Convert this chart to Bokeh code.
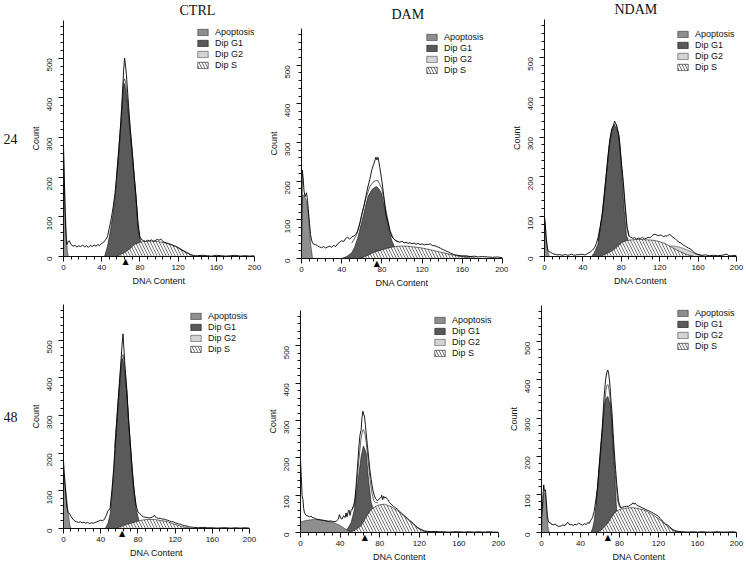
import math
from bokeh.plotting import figure
from bokeh.layouts import column, row
from bokeh.models import (Range1d, FixedTicker, Legend, LegendItem, LinearAxis, Title, Plot)
from bokeh.core.properties import value
from bokeh.embed import file_html
from bokeh.resources import INLINE

# ---------------- labels / ticks ----------------
col_titles = ["CTRL", "DAM", "NDAM"]
row_titles = ["24", "48"]
legend_labels = ["Apoptosis", "Dip G1", "Dip G2", "Dip S"]
x_major = [0, 40, 80, 120, 160, 200]
x_minor = [8, 16, 24, 32, 48, 56, 64, 72, 88, 96, 104, 112, 128, 136, 144, 152,
           168, 176, 184, 192]
y_major = [0, 100, 200, 300, 400, 500]
y_minor = [20, 40, 60, 80, 120, 140, 160, 180, 220, 240, 260, 280, 320, 340, 360,
           380, 420, 440, 460, 480, 520, 540, 560, 580]
g1_marker = [65, 75, None, 63, 65, 68]

# ---------------- CTRL 24 ----------------
ctrl24_hist_x = [0, 0.8, 1.6, 2.5, 3.5, 5, 6, 8, 10, 12, 14, 16, 18, 20, 22, 24, 26, 28, 30, 32,
                 34, 36, 38, 40, 42, 44, 46, 48, 50, 52, 54, 56, 58, 60, 62, 63, 64, 65, 66, 67,
                 68, 70, 72, 74, 76, 78, 80, 82, 84, 86, 88, 90, 92, 94, 96, 98, 100, 102, 104,
                 106, 108, 110, 112, 114, 116, 118, 120, 122, 124, 126, 128, 130, 132, 134, 136,
                 138, 140, 145, 150, 155, 160, 165, 170, 175, 180, 185, 190, 195, 200]
ctrl24_hist_y = [280, 200, 120, 60, 30, 38, 40, 30, 26, 28, 24, 27, 25, 29, 24, 27, 23, 28, 25, 29,
                 26, 30, 28, 33, 36, 42, 50, 72, 95, 125, 160, 215, 275, 340, 425, 470, 500, 480,
                 455, 420, 385, 320, 265, 205, 150, 85, 50, 42, 40, 38, 41, 39, 42, 38, 40, 43,
                 41, 44, 38, 36, 34, 33, 31, 29, 27, 25, 22, 19, 16, 13, 10, 8, 6, 4, 3,
                 2, 2, 3, 2, 1, 3, 2, 1, 2, 3, 1, 2, 1, 2]
ctrl24_apop_x = [0, 1, 2, 3, 4, 5]
ctrl24_apop_y = [260, 190, 110, 50, 15, 0]
ctrl24_g1_x = [43, 46, 49.2, 52, 54, 56, 58.5, 61, 63, 64, 66, 68, 71.2, 73.5, 75.7, 78.4, 80.8]
ctrl24_g1_y = [0, 25, 66, 110, 150, 205, 276, 360, 428, 436, 405, 358, 276, 210, 150, 66, 38]
ctrl24_g2_x = [120, 124, 128, 132, 136]
ctrl24_g2_y = [0, 2, 3, 2, 0]
ctrl24_s_x = [56, 60, 65, 70, 74, 80, 85, 91, 98, 105, 112, 119, 125, 129, 133, 136]
ctrl24_s_y = [0, 5, 12, 20, 30, 36, 38, 39, 38, 35, 30, 24, 16, 11, 5, 0]
ctrl24_fit_x = [56, 58, 60, 62, 63, 64, 65, 66, 68, 70, 72, 74, 76, 78, 80]
ctrl24_fit_y = [210, 268, 335, 405, 440, 448, 440, 420, 365, 315, 262, 205, 148, 75, 45]

# ---------------- DAM 24 ----------------
dam24_hist_x = [0, 0.8, 1.6, 2.5, 3.5, 5, 6, 7, 8, 9, 10, 11, 12, 14, 16, 18, 20, 22, 24, 26, 28,
                30, 32, 34, 36, 38, 40, 42, 44, 46, 48, 50, 52, 54, 56, 58, 60, 62, 64, 66, 68,
                70, 72, 74, 75, 76, 77, 78, 80, 82, 84, 86, 88, 90, 92, 94, 96, 98, 100, 102,
                104, 106, 108, 110, 112, 114, 116, 118, 120, 122, 124, 126, 128, 130, 132, 134,
                136, 138, 140, 142, 144, 146, 148, 150, 152, 154, 156, 158, 160, 164, 168, 172,
                176, 180, 185, 190, 195, 200]
dam24_hist_y = [40, 229, 210, 175, 160, 170, 150, 120, 90, 62, 48, 40, 37, 36, 33, 30, 28, 31, 27,
                30, 32, 29, 34, 31, 38, 42, 46, 44, 52, 55, 50, 56, 58, 62, 72, 90, 115, 135, 160,
                185, 205, 230, 245, 262, 255, 262, 250, 235, 200, 160, 115, 95, 72, 56, 50, 46,
                44, 42, 45, 40, 42, 39, 41, 38, 40, 37, 39, 36, 38, 35, 37, 36, 38, 34, 33, 32,
                29, 27, 24, 22, 19, 17, 14, 12, 10, 9, 8, 7, 6, 6, 5, 6, 4, 5, 4, 3, 4, 2]
dam24_apop_x = [0, 0.5, 1.5, 3, 5, 7, 9, 11]
dam24_apop_y = [0, 150, 165, 160, 150, 110, 40, 0]
dam24_g1_x = [40, 45, 50, 53, 56.4, 59, 61.3, 64, 66.3, 70, 73, 74.6, 77, 79.6, 82, 84.6, 87, 89.6,
              92.9]
dam24_g1_y = [0, 5, 15, 30, 57, 85, 108, 138, 161, 178, 184, 186, 180, 169, 140, 108, 75, 48, 27]
dam24_g2_x = [145, 150, 155, 160, 165, 170, 175]
dam24_g2_y = [0, 3, 7, 8, 7, 4, 0]
dam24_s_x = [58, 65, 71, 78, 84.6, 91, 98, 105, 111, 118, 124, 131, 137.6, 144, 151, 156, 161, 166,
             171]
dam24_s_y = [0, 7, 15, 21, 26, 30, 32, 32, 30, 28, 25, 21, 17, 13, 9, 6, 4, 2, 0]
dam24_fit_x = [50, 55, 60, 64, 68, 72, 76, 80, 84, 88, 92, 96]
dam24_fit_y = [40, 62, 112, 155, 186, 200, 202, 180, 125, 72, 50, 42]

# ---------------- NDAM 24 ----------------
ndam24_hist_x = [0, 0.8, 1.6, 2.5, 3.5, 5, 6, 8, 10, 12, 14, 16, 18, 20, 22, 24, 26, 28, 30, 32,
                 34, 36, 38, 40, 42, 44, 46, 48, 50, 52, 54, 56, 58, 60, 62, 64, 66, 68, 70, 72,
                 73, 74, 75, 76, 77, 78, 80, 82, 84, 86, 88, 90, 92, 94, 96, 98, 100, 102, 104,
                 106, 108, 110, 112, 114, 116, 118, 120, 122, 124, 126, 128, 130, 132, 134, 136,
                 138, 140, 142, 144, 146, 148, 150, 152, 154, 156, 158, 160, 164, 168, 172, 176,
                 180, 185, 190, 192, 195, 200]
ndam24_hist_y = [100, 85, 50, 30, 15, 12, 11, 8, 6, 5, 4, 5, 3, 4, 5, 3, 4, 6, 4, 3, 5, 4, 6, 5,
                 4, 6, 9, 12, 16, 22, 32, 50, 75, 105, 150, 200, 250, 292, 320, 330, 340, 334,
                 332, 318, 310, 295, 240, 190, 130, 75, 52, 48, 46, 47, 44, 46, 45, 48, 44, 46,
                 48, 47, 52, 56, 55, 52, 54, 53, 50, 52, 51, 56, 52, 48, 45, 40, 36, 34, 30, 27,
                 24, 21, 19, 14, 10, 7, 5, 3, 4, 2, 3, 2, 3, 6, 2, 2, 3]
ndam24_apop_x = [0, 1, 2, 3, 4, 5]
ndam24_apop_y = [90, 70, 45, 20, 8, 0]
ndam24_g1_x = [49, 52, 55.8, 58, 60.9, 64.3, 67.7, 70.4, 72.8, 75, 77.2, 79, 80.6, 83, 85.4, 87.4]
ndam24_g1_y = [0, 10, 32, 70, 116, 199, 283, 317, 330, 322, 305, 260, 199, 116, 53, 40]
ndam24_g2_x = [126, 132, 138, 144, 150, 156, 162, 166]
ndam24_g2_y = [0, 27, 25, 21, 15, 8, 3, 0]
ndam24_s_x = [57.5, 64, 71, 76, 81, 86, 91.5, 98, 105, 112, 119, 126, 132.5, 138, 142.5, 148,
              152.7, 156]
ndam24_s_y = [0, 6, 15, 25, 36, 40, 42, 43, 42, 41, 38, 32, 23, 16, 10.6, 5, 2.5, 0]
ndam24_fit_x = [56, 60, 64, 68, 70, 72, 74, 76, 78, 80, 82, 84, 86, 88]
ndam24_fit_y = [38, 102, 195, 288, 316, 330, 333, 322, 292, 232, 180, 120, 70, 50]

# ---------------- CTRL 48 ----------------
ctrl48_hist_x = [0, 0.8, 1.6, 2.5, 3.5, 5, 6.4, 8, 10, 12, 14, 16, 18, 20, 22, 24, 26, 28, 30, 32,
                 34, 36, 38, 40, 42, 44, 46, 48, 50, 52, 54, 56, 58, 60, 62, 63, 64, 65, 66, 68,
                 70, 72, 74, 76, 78, 80, 82, 84, 86, 88, 90, 92, 94, 96, 98, 99, 100, 102, 104,
                 106, 108, 110, 112, 114, 116, 118, 120, 122, 124, 126, 128, 130, 132, 134, 136,
                 140, 145, 150, 155, 160, 165, 170, 175, 180, 185, 190, 195, 200]
ctrl48_hist_y = [180, 150, 120, 90, 60, 42, 40, 32, 25, 20, 18, 16, 18, 15, 17, 14, 16, 13, 15, 14,
                 16, 18, 20, 22, 21, 24, 35, 48, 52, 100, 160, 240, 315, 385, 452, 490, 517, 475,
                 435, 372, 290, 222, 155, 100, 62, 44, 40, 34, 31, 30, 29, 28, 29, 31, 35, 30,
                 29, 27, 27, 25, 25, 23, 22, 20, 18, 18, 15, 14, 12, 11, 9, 8, 7, 5, 4,
                 3, 2, 3, 2, 2, 1, 2, 2, 1, 2, 1, 2, 1]
ctrl48_apop_x = [0, 1, 3, 5, 7, 8]
ctrl48_apop_y = [150, 135, 90, 40, 8, 0]
ctrl48_g1_x = [45, 48, 50.3, 52, 53.8, 55.5, 57.3, 59, 60.9, 62.6, 63.6, 65, 67.9, 69.5, 71.4, 73,
               74.9, 76.6, 78.4, 81]
ctrl48_g1_y = [0, 15, 40, 90, 146, 210, 279, 335, 394, 440, 452, 430, 367, 300, 234, 175, 119, 80,
               48, 22]
ctrl48_g2_x = [118, 122, 126, 130, 134]
ctrl48_g2_y = [0, 2, 3, 2, 0]
ctrl48_s_x = [56, 62, 68, 73, 78, 83.7, 90, 97.8, 105, 112, 117, 122.4, 127, 133, 137]
ctrl48_s_y = [0, 5, 11, 14, 18, 22, 24, 24, 21, 18, 13, 9, 5, 2.6, 0]
ctrl48_fit_x = [55, 58, 60, 62, 63, 64, 65, 66, 68, 70, 72, 74, 76, 78]
ctrl48_fit_y = [215, 310, 375, 440, 458, 462, 448, 425, 365, 285, 218, 150, 97, 60]

# ---------------- DAM 48 ----------------
dam48_hist_x = [0, 0.8, 1.6, 2.4, 3.2, 4, 5.5, 7.4, 9, 10.8, 12, 14, 16, 18, 20, 22, 24, 26, 28, 30,
                32, 34, 36, 38, 39.4, 40.5, 42, 43.5, 45, 46, 47, 48, 49, 50, 51, 52, 54, 55, 56,
                57.6, 59, 60, 61.3, 62, 63, 64, 64.6, 65.5, 66.3, 67.5, 68.7, 70, 71.4, 73,
                74.7, 76, 78, 80, 81.5, 82, 83, 84, 85, 86, 88, 90, 91.5, 94, 96, 98, 100, 102,
                104, 106, 108, 110, 112, 114, 116, 118, 120, 122, 125, 128, 132, 136, 140, 145,
                150, 155, 160, 165, 170, 175, 180, 185, 190, 195, 200]
dam48_hist_y = [195, 150, 100, 89, 65, 53, 46, 44, 42, 44, 40, 39, 36, 35, 34, 33, 32, 31, 30, 31,
                30, 29, 30, 35, 48, 38, 36, 45, 40, 52, 42, 55, 60, 46, 58, 62, 71, 90, 120, 178,
                230, 260, 276, 305, 325, 315, 312, 290, 267, 235, 205, 170, 142, 115, 98, 90,
                85, 92, 94, 100, 88, 97, 92, 95, 89, 80, 76, 70, 66, 62, 57, 52, 47, 43, 38,
                33, 29, 24, 19, 14, 11, 8, 4.5, 3, 2, 3, 2, 2, 1, 2, 2, 1, 2, 1, 2, 1, 2, 1, 1]
dam48_apop_x = [0, 5, 10, 15, 20, 25, 30, 35, 40, 45, 48, 51]
dam48_apop_y = [28, 32, 34, 35, 34, 32, 29, 25, 19, 10, 5, 0]
dam48_g1_x = [44.4, 48, 51.2, 54.5, 57.9, 61.3, 63.6, 66.3, 68.7, 71.4, 73]
dam48_g1_y = [0, 12, 26.7, 62, 133, 205, 232, 214, 142, 80, 67]
dam48_g2_x = [122, 126, 130, 134, 138]
dam48_g2_y = [0, 2, 3, 2, 0]
dam48_s_x = [49.4, 55, 61.3, 66, 71.4, 78, 84.8, 91.5, 98.2, 105, 111.8, 118.5, 125.3, 128.6]
dam48_s_y = [0, 6, 18, 40, 62, 73, 76, 69, 58, 43, 27, 11.6, 2, 0]
dam48_fit_x = [52, 55, 57, 59, 61, 62.5, 63.5, 65, 66.5, 68, 70, 72, 74, 76, 78]
dam48_fit_y = [60, 85, 135, 195, 248, 272, 276, 265, 240, 200, 150, 108, 85, 80, 80]

# ---------------- NDAM 48 ----------------
ndam48_hist_x = [0, 0.8, 1.6, 2.3, 3, 4, 5, 6, 7, 8, 9, 10, 12, 14, 16, 18, 20, 22, 24, 26, 27.3,
                 29, 31, 33, 34, 36, 38, 40, 42, 44, 46, 47.3, 49, 50, 52.3, 54, 56, 57.3, 59,
                 60.7, 62.3, 64, 65.7, 67, 68, 69, 70, 71, 72.3, 73.5, 74.7, 76, 77.3, 79, 81.3,
                 83, 85, 87.3, 89, 91, 93, 94, 95, 96, 97.3, 99, 101, 104, 107, 110.7, 113, 115,
                 117.3, 120, 122, 124, 125.7, 127.3, 129, 131, 134, 137, 140.7, 145, 150, 155,
                 160, 165, 170, 175, 180, 185, 190, 195, 200]
ndam48_hist_y = [40, 60, 100, 125, 108, 112, 80, 45, 30, 25, 26, 22, 20, 22, 18, 16, 17, 20, 18,
                 25, 26, 20, 21, 18, 22, 20, 24, 22, 19, 23, 21, 26, 24, 30, 39, 55, 90, 115, 170,
                 225, 275, 349, 400, 420, 426, 415, 392, 355, 314, 260, 211, 165, 125, 82, 64,
                 66, 68, 69, 68, 72, 75, 78, 74, 77, 73, 70, 68, 64, 60, 56, 53, 50, 47, 42, 36,
                 30, 26, 22, 20, 16, 9, 5, 2.6, 2, 1, 2, 1, 2, 1, 1, 2, 1, 1, 2, 1]
ndam48_apop_x = [0, 1, 2, 3, 4, 5, 6, 7, 8]
ndam48_apop_y = [0, 55, 100, 105, 100, 65, 28, 8, 0]
ndam48_g1_x = [50.7, 52.5, 54, 55.5, 57.3, 59, 60.7, 62, 63.3, 65.7, 68, 70.7, 72, 73, 74, 75, 76,
               76.7, 77.3]
ndam48_g1_y = [0, 12, 30, 62, 108, 160, 211, 255, 297, 349, 357, 332, 290, 246, 200, 151, 105, 73,
               56]
ndam48_g2_x = [128, 132, 136, 140, 144]
ndam48_g2_y = [0, 2, 3, 2, 0]
ndam48_s_x = [57.3, 62, 67.3, 71, 75.7, 80, 84, 89, 94, 99, 104, 109, 114, 119, 124, 127.5, 130.7,
              134, 137.3, 140.7]
ndam48_s_y = [0, 8, 22, 37, 54, 60, 63, 64.5, 65, 63, 60, 54, 47, 38, 28, 20, 13, 7, 2.6, 0]
ndam48_fit_x = [56, 58, 60, 62, 64, 66, 67, 68, 69, 70, 72, 74, 76, 78, 80]
ndam48_fit_y = [75, 135, 195, 255, 320, 370, 385, 388, 380, 360, 300, 210, 140, 85, 66]

panels_data = [
    (ctrl24_hist_x, ctrl24_hist_y, ctrl24_apop_x, ctrl24_apop_y, ctrl24_g1_x, ctrl24_g1_y,
     ctrl24_g2_x, ctrl24_g2_y, ctrl24_s_x, ctrl24_s_y, ctrl24_fit_x, ctrl24_fit_y),
    (dam24_hist_x, dam24_hist_y, dam24_apop_x, dam24_apop_y, dam24_g1_x, dam24_g1_y,
     dam24_g2_x, dam24_g2_y, dam24_s_x, dam24_s_y, dam24_fit_x, dam24_fit_y),
    (ndam24_hist_x, ndam24_hist_y, ndam24_apop_x, ndam24_apop_y, ndam24_g1_x, ndam24_g1_y,
     ndam24_g2_x, ndam24_g2_y, ndam24_s_x, ndam24_s_y, ndam24_fit_x, ndam24_fit_y),
    (ctrl48_hist_x, ctrl48_hist_y, ctrl48_apop_x, ctrl48_apop_y, ctrl48_g1_x, ctrl48_g1_y,
     ctrl48_g2_x, ctrl48_g2_y, ctrl48_s_x, ctrl48_s_y, ctrl48_fit_x, ctrl48_fit_y),
    (dam48_hist_x, dam48_hist_y, dam48_apop_x, dam48_apop_y, dam48_g1_x, dam48_g1_y,
     dam48_g2_x, dam48_g2_y, dam48_s_x, dam48_s_y, dam48_fit_x, dam48_fit_y),
    (ndam48_hist_x, ndam48_hist_y, ndam48_apop_x, ndam48_apop_y, ndam48_g1_x, ndam48_g1_y,
     ndam48_g2_x, ndam48_g2_y, ndam48_s_x, ndam48_s_y, ndam48_fit_x, ndam48_fit_y),
]

# ---------------- layout (pixels) ----------------
# width, height, border left, right, top, bottom, legend x, gap frame-top -> first legend row
layout_specs = [
    (265, 290, 60, 11, 20, 34, 133, 12),
    (243, 290, 36, 6, 28, 31, 124, 10),
    (238, 290, 32, 10, 19, 34, 132, 15),
    (262, 274, 59, 13, 14, 36, 126, 12),
    (243, 274, 38, 7, 20, 31, 133, 11),
    (241, 274, 31, 10, 15, 29, 135, 11),
]
LEGEND_OFF = 38
# column title: left offset from frame, standoff
title_specs = [(116, 2), (90, 10), (70, 1)]

SANS = "Liberation Sans"
SERIF = "Liberation Serif"

HAS_LABEL_ORIENT = "axis_label_orientation" in LinearAxis.properties()
HAS_FRAME_ALIGN = "frame_align" in Plot.properties()


def closed(xs, ys):
    return [xs[0]] + list(xs) + [xs[-1]], [0] + list(ys) + [0]


def make_panel(i):
    w, h, bl, br, bt, bb, lx, lgap = layout_specs[i]
    (hx, hy, ax_, ay, g1x, g1y, g2x, g2y, sx, sy, fx, fy) = panels_data[i]
    p = figure(width=w, height=h, x_range=Range1d(0, 200), y_range=Range1d(0, 595),
               output_backend="svg", toolbar_location=None, tools="",
               min_border_left=bl, min_border_right=br, min_border_top=bt,
               min_border_bottom=bb)
    if HAS_FRAME_ALIGN:
        p.frame_align = False
    p.outline_line_color = None
    p.grid.visible = False
    p.background_fill_color = "white"
    p.border_fill_color = "white"

    for ax in (p.xaxis[0], p.yaxis[0]):
        ax.axis_line_color = "#111111"
        ax.axis_line_width = 1
        ax.major_tick_line_color = "#111111"
        ax.minor_tick_line_color = "#111111"
        ax.major_tick_in = 0
        ax.major_tick_out = 5
        ax.minor_tick_in = 0
        ax.minor_tick_out = 3
        ax.major_label_text_font = SANS
        ax.major_label_text_font_size = "8px"
        ax.major_label_text_color = "#111111"
        ax.axis_label_text_font = SANS
        ax.axis_label_text_font_size = "9px"
        ax.axis_label_text_font_style = "normal"
        ax.axis_label_text_color = "#111111"
    p.xaxis.ticker = FixedTicker(ticks=x_major, minor_ticks=x_minor)
    p.yaxis.ticker = FixedTicker(ticks=y_major, minor_ticks=y_minor)
    p.xaxis.axis_label = "DNA Content"
    p.yaxis.axis_label = "Count"
    p.xaxis.major_label_standoff = 3
    p.xaxis.axis_label_standoff = 3
    p.yaxis.major_label_standoff = 9
    p.yaxis.axis_label_standoff = 1
    p.yaxis.major_label_orientation = math.pi / 2

    # components
    x, y = closed(g2x, g2y)
    r_g2 = p.patch(x, y, fill_color="#d4d4d4", line_color="#444444", line_width=0.6)
    x, y = closed(g1x, g1y)
    r_g1 = p.patch(x, y, fill_color="#5a5a5a", line_color="#111111", line_width=0.6)
    x, y = closed(sx, sy)
    r_s = p.patch(x, y, fill_color="white", hatch_pattern="left_diagonal_line",
                  hatch_color="#333333", hatch_weight=0.7, hatch_scale=6,
                  line_color="#111111", line_width=0.6)
    x, y = closed(ax_, ay)
    r_ap = p.patch(x, y, fill_color="#8e8e8e", line_color="#333333", line_width=0.6)
    p.line(fx, fy, line_color="#222222", line_width=0.7)
    p.line(hx, hy, line_color="#000000", line_width=0.9)

    if g1_marker[i] is not None:
        p.text(x=[g1_marker[i]], y=[0], text=["\u25B2"], text_align="center",
               text_baseline="top", text_font_size="8px",
               text_font=value("DejaVu Sans"), text_color="black", level="overlay")

    fh = h - bt - bb
    legend = Legend(items=[LegendItem(label=value(legend_labels[0]), renderers=[r_ap]),
                           LegendItem(label=value(legend_labels[1]), renderers=[r_g1]),
                           LegendItem(label=value(legend_labels[2]), renderers=[r_g2]),
                           LegendItem(label=value(legend_labels[3]), renderers=[r_s])],
                    location=(lx, fh - lgap - LEGEND_OFF), orientation="vertical",
                    glyph_width=13, glyph_height=8, label_height=8, label_width=10,
                    spacing=1, padding=0, margin=0, label_standoff=6,
                    label_text_font=SANS, label_text_font_size="9px",
                    label_text_color="#111111",
                    border_line_color=None, background_fill_alpha=0)
    p.add_layout(legend)

    # column titles on the top row
    if i < 3:
        off, stand = title_specs[i]
        p.title.text = col_titles[i]
        p.title.text_font = SERIF
        p.title.text_font_size = "14px"
        p.title.text_font_style = "normal"
        p.title.text_color = "#111111"
        p.title.align = "left"
        p.title.vertical_align = "top"
        p.title.offset = off
        p.title.standoff = stand

    # row titles on the left column
    if i in (0, 3):
        rt = row_titles[0 if i == 0 else 1]
        if HAS_LABEL_ORIENT:
            extra = LinearAxis(axis_label=rt, ticker=FixedTicker(ticks=[]),
                               axis_line_color=None, major_tick_line_color=None,
                               minor_tick_line_color=None, major_label_text_font_size="0px",
                               major_tick_out=0, minor_tick_out=0, major_label_standoff=0,
                               axis_label_text_font=SERIF, axis_label_text_font_size="14px",
                               axis_label_text_font_style="normal",
                               axis_label_text_color="#111111", axis_label_standoff=10)
            extra.axis_label_orientation = "horizontal"
            p.add_layout(extra, "left")
        else:
            p.add_layout(Title(text=rt, text_font=SERIF, text_font_size="14px",
                               text_font_style="normal", align="center"), "left")
    return p


panels = [make_panel(i) for i in range(6)]

layout = column(row(panels[0], panels[1], panels[2]), row(panels[3], panels[4], panels[5]))
open("out.html", "w").write(file_html(layout, INLINE))
